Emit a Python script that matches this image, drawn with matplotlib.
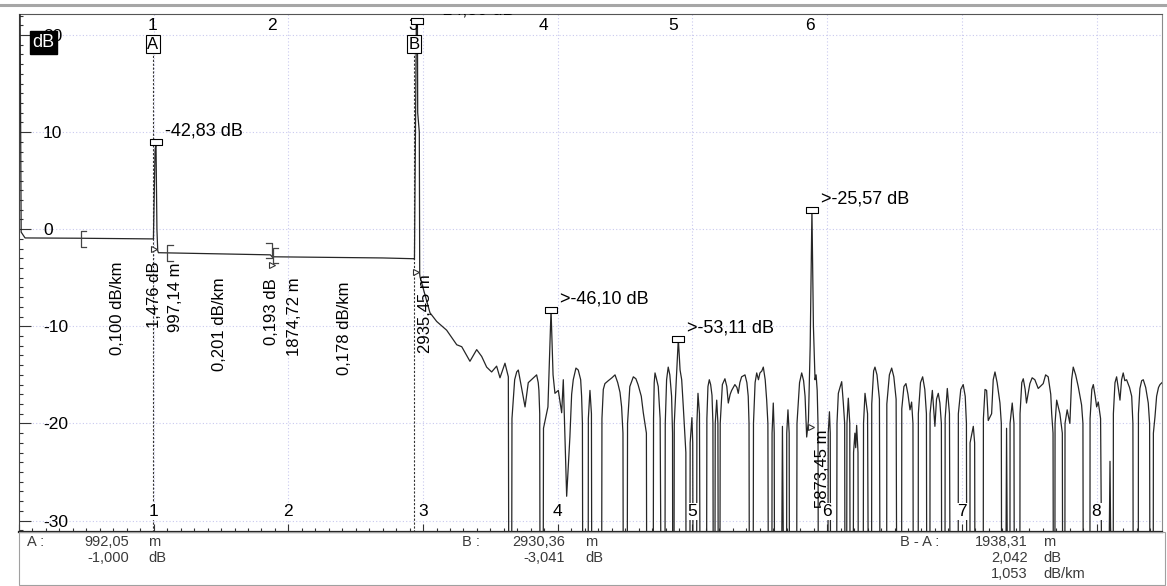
import matplotlib
matplotlib.use("Agg")
import matplotlib.pyplot as plt
from matplotlib.ticker import MultipleLocator, FuncFormatter
from matplotlib.lines import Line2D
from matplotlib.patches import Rectangle

plt.rcParams['font.family'] = ['Liberation Sans', 'DejaVu Sans']
plt.rcParams['axes.unicode_minus'] = False

W, H = 1167, 586

# OTDR trace: distance (km) / level (dB). -35 means below the display floor.
fiber_km = [0.000, 0.008, 0.016, 0.045, 0.450, 0.800, 0.985, 0.998, 1.010, 1.017,
            1.024, 1.030, 1.035, 1.400, 1.800, 1.866, 1.880, 2.300, 2.700, 2.930,
            2.936, 2.950, 2.958, 2.960, 2.972, 2.975]
fiber_db = [23.0, 23.0, -0.3, -0.90, -0.93, -0.97, -1.00, -1.00, 8.0, 9.0,
            0.0, -2.2, -2.42, -2.52, -2.62, -2.64, -2.84, -2.90, -2.96, -3.04,
            -3.10, 21.4, 21.4, 12.0, 10.0, -4.6]

# fiber end roll-off into the noise floor
tail_pts = [(2.977, -4.9), (3.051, -8.6), (3.101, -9.5), (3.175, -10.4), (3.250, -11.9),
            (3.287, -12.1), (3.348, -13.6), (3.398, -12.4), (3.435, -13.1), (3.472, -14.2),
            (3.509, -14.7), (3.546, -14.1), (3.571, -15.3), (3.608, -13.8), (3.633, -15.2)]

# noise floor after the fiber end, with ghost reflections
noise_pts = [
    (3.636, -35), (3.658, -35), (3.660, -19.5), (3.680, -15.5), (3.695, -14.7), (3.707, -14.5),
    (3.720, -15.5), (3.757, -18.3), (3.781, -15.8), (3.843, -15.0), (3.855, -15.8), (3.860, -16.6),
    (3.866, -19.0), (3.868, -35),
    (3.892, -35), (3.894, -20.5), (3.927, -18.3), (3.950, -8.3), (3.965, -15.0), (3.979, -16.9),
    (4.004, -16.6), (4.029, -18.9), (4.041, -15.5), (4.066, -27.5), (4.090, -21.4), (4.103, -17.0),
    (4.115, -15.5), (4.135, -14.3), (4.152, -14.5), (4.170, -15.5), (4.177, -17.2), (4.183, -20.0),
    (4.185, -35),
    (4.226, -35), (4.227, -19.5), (4.239, -16.6), (4.250, -19.0), (4.252, -35),
    (4.326, -35), (4.328, -19.5), (4.338, -16.5), (4.350, -15.9), (4.375, -15.6), (4.402, -15.3),
    (4.425, -15.0), (4.445, -15.8), (4.462, -16.8), (4.474, -18.3), (4.484, -21.0), (4.486, -35),
    (4.516, -35), (4.518, -20.0), (4.535, -16.2), (4.561, -15.2), (4.580, -15.4), (4.596, -16.0),
    (4.620, -17.2), (4.635, -18.9), (4.658, -21.0), (4.660, -35),
    (4.709, -35), (4.711, -19.5), (4.716, -15.8), (4.722, -14.8), (4.731, -15.3), (4.746, -16.2),
    (4.760, -19.5), (4.766, -35),
    (4.796, -35), (4.798, -20.0), (4.808, -15.5), (4.820, -14.2), (4.832, -15.0), (4.845, -17.2),
    (4.852, -21.0), (4.853, -35),
    (4.863, -35), (4.865, -20.0), (4.880, -15.5), (4.895, -11.3), (4.908, -14.5), (4.920, -15.5),
    (4.932, -18.3), (4.944, -21.4), (4.951, -23.0), (4.952, -35),
    (4.981, -35), (4.983, -22.0), (4.996, -19.4), (5.002, -22.0), (5.004, -35),
    (5.031, -35), (5.033, -20.0), (5.041, -16.9), (5.052, -19.0), (5.056, -35),
    (5.105, -35), (5.107, -19.5), (5.115, -16.2), (5.125, -15.5), (5.135, -16.0), (5.145, -17.1),
    (5.152, -20.0), (5.154, -35),
    (5.167, -35), (5.169, -20.0), (5.180, -17.6), (5.189, -20.0), (5.191, -35),
    (5.204, -35), (5.206, -20.0), (5.222, -16.0), (5.241, -15.4), (5.255, -16.2), (5.266, -17.9),
    (5.280, -17.0), (5.291, -16.6), (5.315, -16.0), (5.330, -16.3), (5.340, -16.9), (5.352, -15.8),
    (5.365, -15.2), (5.390, -15.0), (5.404, -15.8), (5.414, -17.2), (5.420, -20.0), (5.422, -35),
    (5.451, -35), (5.453, -20.0), (5.465, -15.8), (5.477, -14.8), (5.490, -15.5), (5.501, -14.8),
    (5.515, -14.6), (5.526, -14.2), (5.540, -15.5), (5.551, -17.6), (5.560, -20.0), (5.563, -35),
    (5.590, -35), (5.591, -21.0), (5.600, -17.9), (5.607, -21.0), (5.609, -35),
    (5.662, -35), (5.668, -20.3), (5.676, -35),
    (5.699, -35), (5.700, -21.0), (5.709, -18.6), (5.718, -21.0), (5.720, -35),
    (5.774, -35), (5.776, -20.0), (5.795, -15.8), (5.811, -14.8), (5.825, -15.6), (5.836, -17.2),
    (5.848, -21.4), (5.861, -19.7), (5.874, -12.0), (5.887, 2.0), (5.898, -10.0), (5.910, -15.5),
    (5.918, -15.0), (5.926, -16.6), (5.932, -20.0), (5.934, -35),
    (6.006, -35), (6.008, -21.0), (6.017, -18.8), (6.023, -21.0), (6.025, -35),
    (6.071, -35), (6.073, -20.0), (6.083, -16.9), (6.095, -16.3), (6.108, -15.7), (6.120, -17.9),
    (6.130, -20.0), (6.132, -35),
    (6.145, -35), (6.147, -20.0), (6.157, -17.4), (6.168, -20.0), (6.170, -35),
    (6.194, -35), (6.196, -23.0), (6.206, -21.0), (6.212, -22.5), (6.219, -20.2), (6.229, -23.0),
    (6.231, -35),
    (6.268, -35), (6.270, -20.0), (6.281, -16.9), (6.300, -19.0), (6.305, -35),
    (6.330, -35), (6.331, -18.0), (6.345, -14.6), (6.355, -14.2), (6.370, -15.0), (6.388, -17.5),
    (6.392, -35),
    (6.442, -35), (6.443, -18.0), (6.462, -15.0), (6.479, -14.3), (6.495, -15.2), (6.512, -17.5),
    (6.516, -35),
    (6.553, -35), (6.554, -18.5), (6.570, -16.2), (6.585, -15.9), (6.600, -17.0), (6.615, -18.6),
    (6.627, -17.8), (6.637, -20.0), (6.639, -35),
    (6.676, -35), (6.677, -19.0), (6.693, -15.8), (6.709, -15.2), (6.725, -16.5), (6.737, -19.0),
    (6.739, -35),
    (6.763, -35), (6.764, -19.0), (6.781, -16.6), (6.800, -20.3), (6.812, -17.5), (6.825, -16.9),
    (6.837, -17.9), (6.848, -20.0), (6.850, -35),
    (6.875, -35), (6.876, -19.5), (6.892, -16.4), (6.908, -19.0), (6.912, -35),
    (6.973, -35), (6.974, -19.0), (6.992, -16.5), (7.010, -16.0), (7.025, -17.2), (7.034, -20.0),
    (7.036, -35),
    (7.060, -35), (7.061, -22.0), (7.085, -20.3), (7.095, -22.0), (7.097, -35),
    (7.159, -35), (7.160, -19.5), (7.172, -16.5), (7.184, -16.6), (7.196, -19.7), (7.221, -19.0),
    (7.233, -15.5), (7.246, -14.7), (7.262, -15.8), (7.283, -17.9), (7.293, -20.0), (7.295, -35),
    (7.327, -35), (7.332, -20.5), (7.338, -35),
    (7.357, -35), (7.358, -20.0), (7.374, -17.9), (7.387, -20.0), (7.389, -35),
    (7.431, -35), (7.432, -19.0), (7.445, -15.8), (7.456, -15.4), (7.470, -16.5), (7.480, -17.9),
    (7.505, -15.9), (7.522, -15.3), (7.542, -15.5), (7.567, -16.4), (7.604, -15.9), (7.622, -15.0),
    (7.641, -15.2), (7.660, -17.0), (7.667, -19.0), (7.677, -21.0), (7.679, -35),
    (7.691, -35), (7.692, -20.0), (7.704, -17.6), (7.728, -19.0), (7.746, -21.0), (7.748, -35),
    (7.765, -35), (7.766, -20.0), (7.782, -18.6), (7.802, -20.0), (7.815, -15.5), (7.827, -14.2),
    (7.845, -15.0), (7.864, -16.2), (7.889, -18.1), (7.899, -20.0), (7.901, -35),
    (7.951, -35), (7.952, -19.5), (7.965, -16.5), (7.976, -16.0), (7.990, -17.2), (8.001, -18.3),
    (8.013, -17.8), (8.030, -19.5), (8.038, -35),
    (8.092, -35), (8.100, -23.9), (8.107, -35),
    (8.124, -35), (8.125, -19.0), (8.137, -15.8), (8.149, -15.2), (8.163, -16.5), (8.174, -17.6),
    (8.186, -15.5), (8.198, -14.8), (8.210, -15.6), (8.223, -15.5), (8.245, -16.3), (8.261, -17.2),
    (8.270, -20.0), (8.272, -35),
    (8.310, -35), (8.311, -19.0), (8.322, -16.4), (8.335, -15.6), (8.347, -15.5), (8.365, -16.3),
    (8.384, -17.9), (8.394, -20.0), (8.396, -35),
    (8.421, -35), (8.422, -21.0), (8.434, -19.3), (8.446, -17.2), (8.460, -16.3), (8.471, -16.0),
    (8.486, -15.8),
]

# events
event_no = ['1', '2', '3', '4', '5', '6']
event_km = [0.992, 1.875, 2.930, 3.890, 4.855, 5.873]

refl_km = [1.017, 2.957, 3.950, 4.895, 5.887]
refl_db = [9.0, 21.4, -8.3, -11.3, 2.0]
refl_txt = ['-42,83 dB', '>-14,80 dB', '>-46,10 dB', '>-53,11 dB', '>-25,57 dB']

start_km = [1.002, 1.882, 2.945, 5.878]
start_db = [-2.04, -3.69, -4.38, -20.34]

# section / event readouts written vertically
vert_txt = ['0,100 dB/km', '1,476 dB', '997,14 m', '0,201 dB/km', '0,193 dB',
            '1874,72 m', '0,178 dB/km', '2935,45 m', '5873,45 m']
vert_km = [0.728, 1.006, 1.165, 1.485, 1.876, 2.042, 2.413, 3.021, 5.962]
vert_db = [-8.17, -6.78, -6.98, -9.76, -8.48, -9.0, -10.18, -8.73, -24.7]

# LSA brackets
lsa_km = [0.458, 1.101, 1.876, 1.884]
lsa_top = [-0.15, -1.63, -1.45, -1.90]
lsa_bot = [-1.80, -3.28, -3.00, -3.50]
lsa_dir = [1, 1, -1, 1]

# cursors
cursor_name = ['A', 'B']
cursor_km = [0.99205, 2.93036]

km_ticks = [1, 2, 3, 4, 5, 6, 7, 8]

# readout panel
panel_names = ['A :', 'B :', 'B - A :']
panel_vals = [['992,05', '-1,000'], ['2930,36', '-3,041'], ['1938,31', '2,042', '1,053']]
panel_units = [['m', 'dB'], ['m', 'dB'], ['m', 'dB', 'dB/km']]

fig = plt.figure(figsize=(W / 100, H / 100), dpi=100)
fig.patch.set_facecolor('white')
ax = fig.add_axes([19 / W, 1 - 532 / H, (1162 - 19) / W, (532 - 14) / H])
ax.set_xlim(0, 8.486)
ax.set_ylim(-31.18, 22.16)

# grid
grid_kw = dict(color='#c9c9ef', lw=0.8, linestyle=(0, (1, 2)), zorder=0)
for k in km_ticks:
    ax.axvline(k, **grid_kw)
for v in range(-30, 21, 10):
    ax.axhline(v, **grid_kw)

# trace
trace_km = fiber_km + [p[0] for p in tail_pts] + [p[0] for p in noise_pts]
trace_db = fiber_db + [p[1] for p in tail_pts] + [p[1] for p in noise_pts]
ax.plot(trace_km, trace_db, color='#262626', lw=0.9, zorder=3)

# cursor lines and flags
for name, k in zip(cursor_name, cursor_km):
    ax.plot([k, k], [-31.18, 18.2], color='#333333', lw=0.8,
            linestyle=(0, (2, 1.5)), zorder=2)
    ax.text(k, 19.07, name, ha='center', va='center', fontsize=12, zorder=6,
            bbox=dict(boxstyle='square,pad=0.08', fc='white', ec='black', lw=0.8))

# event numbers along the top
for n, k in zip(event_no, event_km):
    ax.text(k, 20.98, n, ha='center', va='center', fontsize=12.5, zorder=4)

# reflectance markers and labels
rect = [(-1, -0.6), (1, -0.6), (1, 0.6), (-1, 0.6), (-1, -0.6)]
ax.plot(refl_km, refl_db, linestyle='none', marker=rect, markersize=8,
        mfc='white', mec='black', mew=0.8, zorder=5)
for k, v, t in zip(refl_km, refl_db, refl_txt):
    ax.annotate(t, (k, v), xytext=(6.5, 8), textcoords='offset points',
                ha='left', va='center', fontsize=13, zorder=6, clip_on=True)

# event start markers
ax.plot(start_km, start_db, linestyle='none', marker='>', markersize=5,
        mfc='white', mec='#333333', mew=0.8, zorder=5)

# LSA brackets
w = 0.042
for k, t, b, d in zip(lsa_km, lsa_top, lsa_bot, lsa_dir):
    ax.plot([k + d * w, k, k, k + d * w], [t, t, b, b], color='#444444', lw=0.9, zorder=4)

for t, k, v in zip(vert_txt, vert_km, vert_db):
    ax.text(k, v, t, rotation=90, ha='center', va='center', fontsize=12, zorder=6)

# bottom distance numbers
for k in km_ticks:
    ax.text(k, -29.08, str(k), ha='center', va='center', fontsize=12.5, zorder=6,
            bbox=dict(boxstyle='square,pad=0.05', fc='white', ec='none'))

# axes frame and ticks
ax.xaxis.set_major_locator(MultipleLocator(1))
ax.xaxis.set_minor_locator(MultipleLocator(0.1))
ax.yaxis.set_major_locator(MultipleLocator(10))
ax.yaxis.set_minor_locator(MultipleLocator(1))
ax.tick_params(axis='x', which='both', direction='in', labelbottom=False,
               color='#333333', width=0.8)
ax.tick_params(axis='x', which='major', length=5.8)
ax.tick_params(axis='x', which='minor', length=2.9)
ax.tick_params(axis='y', which='both', direction='in', color='#333333', width=0.8)
ax.tick_params(axis='y', which='major', length=8.6, pad=-17.3, labelsize=12.5)
ax.tick_params(axis='y', which='minor', length=2.9)
ax.yaxis.set_major_formatter(FuncFormatter(lambda v, p: '%d' % v))
for lab in ax.get_yticklabels():
    lab.set_horizontalalignment('left')

ax.spines['left'].set_color('#444444')
ax.spines['top'].set_color('#555555')
ax.spines['right'].set_color('#8a8a8a')
ax.spines['bottom'].set_color('#222222')
ax.spines['bottom'].set_linewidth(1.6)

# unit tag in the corner
ax.text(0.182, 19.23, 'dB', ha='center', va='center', fontsize=13, color='white',
        zorder=7, bbox=dict(boxstyle='square,pad=0.16', fc='black', ec='black'))

# window chrome
fig.add_artist(Line2D([0, 1], [1 - 4.5 / H, 1 - 4.5 / H], color='#a6a6a6', lw=2.2))
fig.add_artist(Rectangle((19 / W, 1 - 585 / H), (1165 - 19) / W, (585 - 532) / H,
                         fill=False, ec='#a0a0a0', lw=0.8))

# readout panel
name_x = [27, 462, 900]
val_x = [129, 565, 1028]
unit_x = [148, 585, 1043]
row_y = [542, 558, 574]
pcol = '#3a3a3a'
for i, name in enumerate(panel_names):
    fig.text(name_x[i] / W, 1 - row_y[0] / H, name, ha='left', va='center',
             fontsize=10.5, color=pcol)
    for j, (v, u) in enumerate(zip(panel_vals[i], panel_units[i])):
        fig.text(val_x[i] / W, 1 - row_y[j] / H, v, ha='right', va='center',
                 fontsize=10.5, color=pcol)
        fig.text(unit_x[i] / W, 1 - row_y[j] / H, u, ha='left', va='center',
                 fontsize=10.5, color=pcol)

fig.savefig('out.png', dpi=100)
